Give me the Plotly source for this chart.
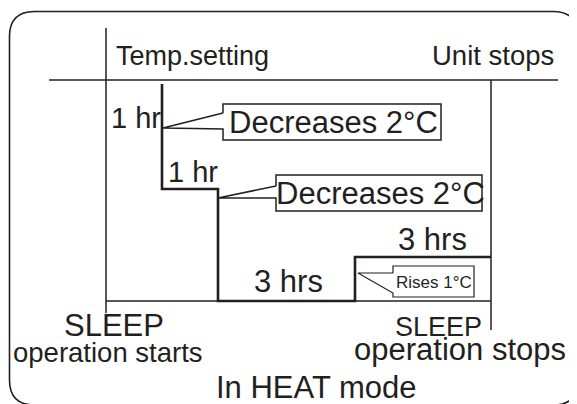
import plotly.graph_objects as go

# ---- diagram content (schematic units, 1 unit ~ 1 px of the original sheet) ----
phase_labels = ["1 hr", "1 hr", "3 hrs", "3 hrs"]
callout_texts = ["Decreases 2°C", "Decreases 2°C", "Rises 1°C"]
top_labels = ["Temp.setting", "Unit stops"]
bottom_labels = ["SLEEP", "operation starts", "SLEEP", "operation stops", "In HEAT mode"]

# set-temperature profile during SLEEP operation (schematic)
profile_x = [162, 162, 218, 218, 355, 355, 491]
profile_y = [84, 189, 189, 301, 301, 257, 257]

# reference lines: setting level, start / stop markers, lowest level
setting_x = [49, 558]
setting_y = [80, 80]
start_x = [106, 106]
start_y = [28, 313]
stop_x = [491, 491]
stop_y = [80, 330]
base_x = [106, 491]
base_y = [301, 301]

# callout outlines (box with pointer)
callout1_x = [223, 163, 223, 223, 441, 441, 223, 223]
callout1_y = [113, 128, 129, 140, 140, 104, 104, 113]
callout2_x = [276, 218, 276, 276, 482, 482, 276, 276]
callout2_y = [186, 198, 198, 211, 211, 175, 175, 186]
callout3_x = [393, 358, 393, 393, 474, 474, 393, 393]
callout3_y = [273, 273, 293, 297, 297, 266, 266, 273]

INK = "#231f20"
FONT = "Liberation Sans, Arial, sans-serif"
PAGE_OFFSET = 8  # default body margin of the html page

fig = go.Figure()

def line(xs, ys, w=1.5, fill=None):
    fig.add_trace(go.Scatter(
        x=xs, y=ys, mode="lines",
        line=dict(color=INK, width=w),
        fill="toself" if fill else None,
        fillcolor=fill,
        hoverinfo="skip", showlegend=False,
    ))

line(setting_x, setting_y)
line(start_x, start_y)
line(stop_x, stop_y)
line(base_x, base_y)
line(profile_x, profile_y, w=2.6)
line(callout1_x, callout1_y, w=1.5, fill="white")
line(callout2_x, callout2_y, w=1.5, fill="white")
line(callout3_x, callout3_y, w=1.2, fill="white")

def text(s, x, y, size, xanchor="left"):
    fig.add_annotation(
        x=x, y=y, text=s, showarrow=False,
        xanchor=xanchor, yanchor="middle",
        font=dict(family=FONT, size=size, color=INK),
        xref="x", yref="y",
    )

text(top_labels[0], 114, 56, 27)
text(top_labels[1], 556, 55, 27.5, xanchor="right")
text(phase_labels[0], 109, 118, 29)
text(phase_labels[1], 166, 172, 29)
text(phase_labels[2], 252, 281, 31)
text(phase_labels[3], 396, 239, 31)
text(callout_texts[0], 333, 122, 31, xanchor="center")
text(callout_texts[1], 380, 193, 31, xanchor="center")
text(callout_texts[2], 434, 282, 17, xanchor="center")
text(bottom_labels[0], 114, 325, 31, xanchor="center")
text(bottom_labels[1], 108, 352, 27.5, xanchor="center")
text(bottom_labels[2], 438, 327, 27, xanchor="center")
text(bottom_labels[3], 460, 349, 31, xanchor="center")
text(bottom_labels[4], 316, 387, 31, xanchor="center")

# rounded frame
x0, y0, x1, y1, r = 9.5, 11.5, 578, 405, 25
path = (f"M {x0+r},{y0} L {x1-r},{y0} Q {x1},{y0} {x1},{y0+r} "
        f"L {x1},{y1-r} Q {x1},{y1} {x1-r},{y1} L {x0+r},{y1} "
        f"Q {x0},{y1} {x0},{y1-r} L {x0},{y0+r} Q {x0},{y0} {x0+r},{y0} Z")
fig.add_shape(type="path", path=path, xref="x", yref="y",
              line=dict(color=INK, width=1.6))

fig.update_layout(
    width=577, height=404,
    margin=dict(l=0, r=0, t=0, b=0),
    paper_bgcolor="white", plot_bgcolor="white",
    showlegend=False,
    xaxis=dict(range=[PAGE_OFFSET, 577 + PAGE_OFFSET], visible=False, fixedrange=True),
    yaxis=dict(range=[404 + PAGE_OFFSET, PAGE_OFFSET], visible=False, fixedrange=True),
)

fig.write_html("out.html")
